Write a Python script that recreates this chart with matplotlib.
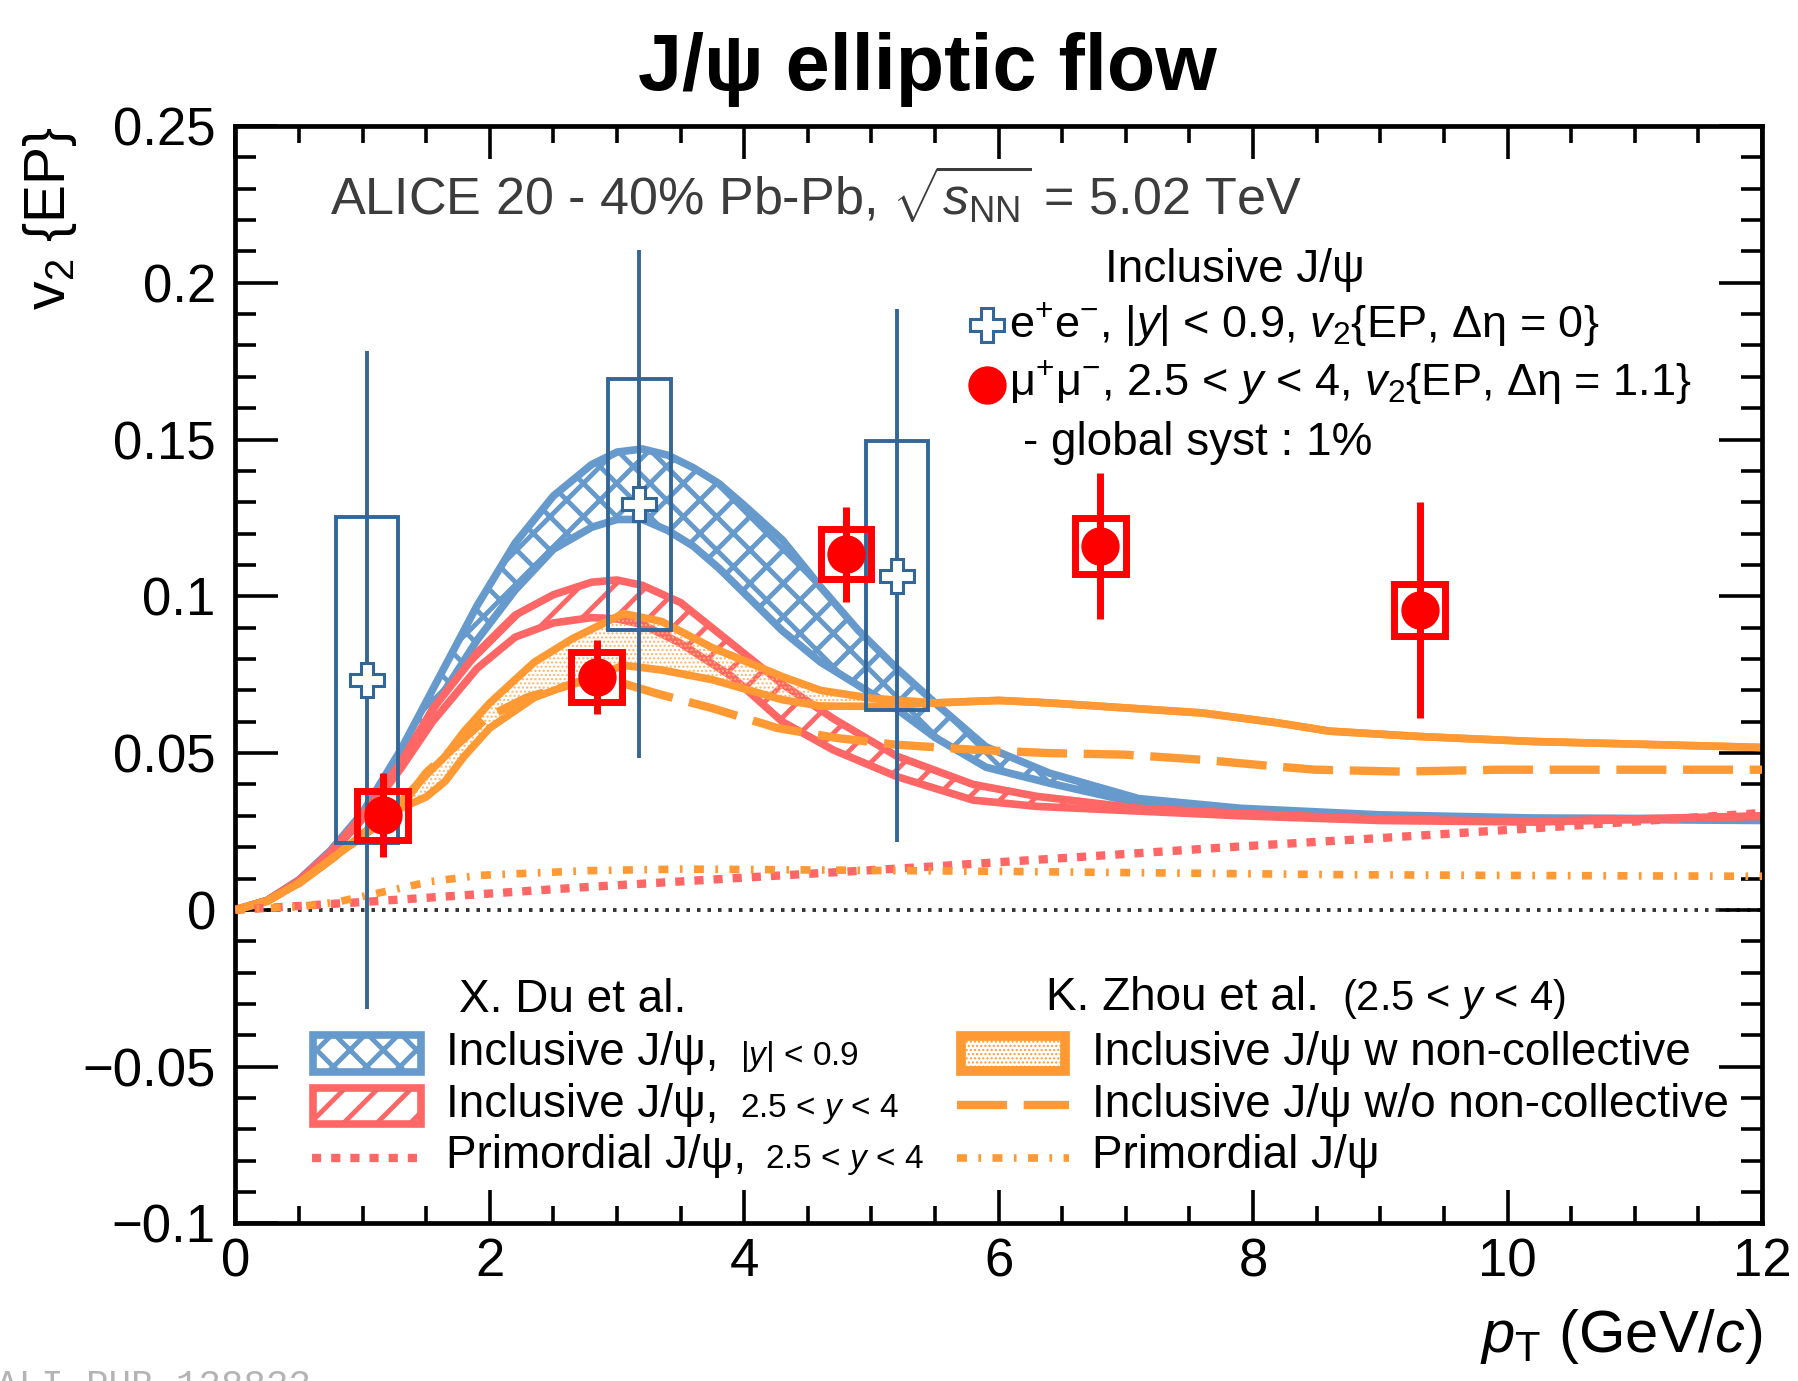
import numpy as np
import matplotlib
matplotlib.use("Agg")
import matplotlib.pyplot as plt
from matplotlib.patches import Rectangle
from matplotlib.lines import Line2D
from matplotlib.ticker import MultipleLocator, FuncFormatter

plt.rcParams['font.family'] = ['Liberation Sans', 'DejaVu Sans']
plt.rcParams['mathtext.fontset'] = 'custom'
plt.rcParams['mathtext.rm'] = 'Liberation Sans'
plt.rcParams['mathtext.it'] = 'Liberation Sans:italic'
plt.rcParams['mathtext.bf'] = 'Liberation Sans:bold'
plt.rcParams['hatch.linewidth'] = 3.0
plt.rcParams['lines.solid_joinstyle'] = 'round'
plt.rcParams['lines.dash_joinstyle'] = 'round'

# ---------------- data ----------------
# ALICE, J/psi -> e+e-, |y| < 0.9
ee_pt = [1.034, 3.176, 5.20]
ee_v2 = [0.0733, 0.1294, 0.1066]
ee_stat = [0.105, 0.081, 0.085]
ee_syst = [0.052, 0.040, 0.043]

# ALICE, J/psi -> mu+mu-, 2.5 < y < 4
mumu_pt = [1.16, 2.84, 4.80, 6.80, 9.31]
mumu_v2 = [0.0301, 0.0743, 0.1134, 0.1161, 0.0956]
mumu_stat = [0.0134, 0.0117, 0.0152, 0.0233, 0.0345]
mumu_syst = [0.0077, 0.0079, 0.0080, 0.0090, 0.0082]

# X. Du et al., inclusive |y| < 0.9 (band)
du_mid_pt = [0, 0.25, 0.5, 0.75, 1.0, 1.3, 1.6, 1.9, 2.2, 2.5, 2.8, 3.0, 3.2, 3.4, 3.6,
             3.8, 4.0, 4.3, 4.6, 4.9, 5.2, 5.5, 5.9, 6.4, 7.1, 7.9, 9.0, 10.2, 12.0]
du_mid_hi = [0, 0.003, 0.0096, 0.019, 0.031, 0.051, 0.074, 0.097, 0.117, 0.132, 0.142, 0.146, 0.147, 0.145, 0.141,
             0.136, 0.129, 0.118, 0.103, 0.089, 0.077, 0.066, 0.052, 0.0436, 0.0355, 0.0324, 0.0303, 0.0293, 0.029]
du_mid_lo = [0, 0.003, 0.0093, 0.018, 0.029, 0.047, 0.067, 0.086, 0.102, 0.115, 0.122, 0.1245, 0.1245, 0.121, 0.116,
             0.109, 0.101, 0.089, 0.079, 0.0715, 0.064, 0.055, 0.0455, 0.0404, 0.034, 0.0318, 0.030, 0.029, 0.0285]

# X. Du et al., inclusive 2.5 < y < 4 (band)
du_fwd_pt = [0, 0.25, 0.5, 0.75, 1.0, 1.3, 1.55, 1.9, 2.2, 2.5, 2.8, 3.0, 3.2, 3.5, 3.9,
             4.3, 4.7, 5.2, 5.8, 6.3, 7.1, 7.9, 9.0, 10.2, 12.0]
du_fwd_hi = [0, 0.003, 0.0094, 0.0185, 0.030, 0.047, 0.064, 0.082, 0.094, 0.1005, 0.1045, 0.1052, 0.1035, 0.098, 0.085,
             0.072, 0.061, 0.049, 0.040, 0.0362, 0.0324, 0.0308, 0.0289, 0.0282, 0.030]
du_fwd_lo = [0, 0.003, 0.0092, 0.018, 0.029, 0.045, 0.060, 0.077, 0.087, 0.0915, 0.0932, 0.0928, 0.091, 0.085, 0.0745,
             0.060, 0.051, 0.0425, 0.035, 0.033, 0.0315, 0.030, 0.0285, 0.028, 0.0298]

# X. Du et al., primordial 2.5 < y < 4
du_prim_pt = [0, 1.08, 2.77, 4.3, 5.47, 6.69, 7.89, 9.0, 10.2, 12.0]
du_prim_v2 = [0, 0.0027, 0.0073, 0.011, 0.0138, 0.017, 0.0202, 0.0229, 0.026, 0.0309]

# K. Zhou et al., with non-collective contribution (band)
zhou_w_pt = [0, 0.25, 0.5, 0.75, 0.95, 1.3, 1.5, 1.65, 1.8, 2.0, 2.35, 2.65, 2.8, 3.05, 3.35, 3.75,
             4.3, 4.6, 5.0, 5.5, 6.0, 6.4, 7.0, 7.6, 8.2, 8.6, 9.3, 10.2, 12.0]
zhou_w_hi = [0, 0.0028, 0.0085, 0.016, 0.0225, 0.0346, 0.043, 0.049, 0.057, 0.066, 0.079, 0.0865, 0.0895, 0.0945, 0.092, 0.0836,
             0.0744, 0.070, 0.0675, 0.066, 0.0668, 0.066, 0.0644, 0.0628, 0.0596, 0.057, 0.0553, 0.0537, 0.0518]
zhou_w_lo = [0, 0.0028, 0.0085, 0.016, 0.022, 0.0324, 0.036, 0.041, 0.049, 0.058, 0.0677, 0.0722, 0.074, 0.078, 0.0765, 0.0734,
             0.067, 0.065, 0.0649, 0.066, 0.0668, 0.066, 0.0644, 0.0628, 0.0596, 0.057, 0.0553, 0.0537, 0.0518]

# K. Zhou et al., without non-collective contribution
zhou_wo_pt = [0, 0.25, 0.5, 0.75, 0.95, 1.3, 1.5, 1.98, 2.29, 2.77, 3.05, 3.33, 3.75, 4.26, 4.73,
              5.19, 5.79, 6.39, 6.99, 7.59, 8.19, 8.49, 9.16, 9.94, 12.0]
zhou_wo_v2 = [0, 0.0028, 0.0085, 0.016, 0.022, 0.033, 0.0437, 0.0614, 0.0677, 0.0734, 0.0722, 0.0688, 0.0643, 0.058, 0.0548,
              0.0527, 0.0511, 0.050, 0.0495, 0.0479, 0.0457, 0.0447, 0.0441, 0.0447, 0.0447]

# K. Zhou et al., primordial
zhou_prim_pt = [0, 0.5, 0.8, 1.14, 1.53, 1.92, 2.77, 3.5, 4.3, 6.2, 8.77, 10.5, 12.0]
zhou_prim_v2 = [0, 0.001, 0.0025, 0.0055, 0.009, 0.011, 0.0125, 0.013, 0.0128, 0.0122, 0.0112, 0.0109, 0.0107]

# ---------------- style ----------------
c_blue = '#6699cc'
c_blue_dk = '#336699'
c_red = '#ff6666'
c_orange = '#ff9933'
c_data = '#ff0000'

W, H = 1799, 1381


def fx(px):
    return px / W


def fy(py):
    return 1 - py / H


def hatch_lw(artist, lw):
    if hasattr(artist, 'set_hatch_linewidth'):
        artist.set_hatch_linewidth(lw)


fig = plt.figure(figsize=(W / 100, H / 100), dpi=100)
ax = fig.add_axes([fx(235.3), fy(1223.4), fx(1762) - fx(235.3), fy(126) - fy(1223.4)])
ax.set_xlim(0, 12)
ax.set_ylim(-0.1, 0.25)

# bands
b = ax.fill_between(du_mid_pt, du_mid_lo, du_mid_hi, facecolor='none', edgecolor=c_blue,
                    hatch='x', linewidth=0, zorder=2)
hatch_lw(b, 3.5)
ax.plot(du_mid_pt, du_mid_hi, color=c_blue, lw=5.5, zorder=2.1)
ax.plot(du_mid_pt, du_mid_lo, color=c_blue, lw=5.5, zorder=2.1)

r = ax.fill_between(du_fwd_pt, du_fwd_lo, du_fwd_hi, facecolor='none', edgecolor=c_red,
                    hatch='/', linewidth=0, zorder=2.2)
hatch_lw(r, 3.5)
ax.plot(du_fwd_pt, du_fwd_hi, color=c_red, lw=5.5, zorder=2.3)
ax.plot(du_fwd_pt, du_fwd_lo, color=c_red, lw=5.5, zorder=2.3)

o = ax.fill_between(zhou_w_pt, zhou_w_lo, zhou_w_hi, facecolor='none', edgecolor='#ffb366',
                    hatch='....', linewidth=0, zorder=2.4)
hatch_lw(o, 1.0)
ax.plot(zhou_w_pt, zhou_w_hi, color=c_orange, lw=5.5, zorder=2.5)
ax.plot(zhou_w_pt, zhou_w_lo, color=c_orange, lw=5.5, zorder=2.5)

ax.plot(zhou_wo_pt, zhou_wo_v2, color=c_orange, lw=6, dashes=(6.0, 2.0), zorder=2.6)
ax.plot(du_prim_pt, du_prim_v2, color=c_red, lw=6, dashes=(1.1, 1.2), zorder=2.6)
ax.plot(zhou_prim_pt, zhou_prim_v2, color=c_orange, lw=5.5, dashes=(1.3, 1.5, 0.35, 1.5), zorder=2.6)

ax.axhline(0, color='#333333', lw=2.8, dashes=(0.9, 1.8), zorder=1.5)

# e+e- points
for x, y, s in zip(ee_pt, ee_v2, ee_syst):
    ax.add_patch(Rectangle((x - 0.245, y - s), 0.49, 2 * s, facecolor='none',
                           edgecolor=c_blue_dk, lw=2.8, zorder=4))
ax.vlines(ee_pt, np.array(ee_v2) - np.array(ee_stat), np.array(ee_v2) + np.array(ee_stat),
          color=c_blue_dk, lw=2.8, zorder=4)
ax.plot(ee_pt, ee_v2, ls='none', marker='P', ms=25, mfc='white', mec=c_blue_dk, mew=2.2, zorder=5)

# mu+mu- points
for x, y, s in zip(mumu_pt, mumu_v2, mumu_syst):
    ax.add_patch(Rectangle((x - 0.2, y - s), 0.4, 2 * s, facecolor='none',
                           edgecolor=c_data, lw=5, zorder=6))
ax.vlines(mumu_pt, np.array(mumu_v2) - np.array(mumu_stat), np.array(mumu_v2) + np.array(mumu_stat),
          color=c_data, lw=5, zorder=6)
ax.plot(mumu_pt, mumu_v2, ls='none', marker='o', ms=26.6, mfc=c_data, mec=c_data, zorder=7)

# axes
for sp in ax.spines.values():
    sp.set_linewidth(3.4)
ax.xaxis.set_major_locator(MultipleLocator(2))
ax.xaxis.set_minor_locator(MultipleLocator(0.5))
ax.yaxis.set_major_locator(MultipleLocator(0.05))
ax.yaxis.set_minor_locator(MultipleLocator(0.01))
ax.yaxis.set_major_formatter(FuncFormatter(lambda v, _: ('%g' % round(v, 4)).replace('-', '\u2212')))
ax.tick_params(which='both', direction='in', top=True, right=True, width=2.6, labelsize=38)
ax.tick_params(axis='y', which='major', length=31, pad=14)
ax.tick_params(axis='y', which='minor', length=15)
ax.tick_params(axis='x', which='major', length=24, pad=10)
ax.tick_params(axis='x', which='minor', length=12)

# titles and labels
fig.text(fx(927), fy(90), 'J/ψ elliptic flow', ha='center', va='baseline', fontsize=57, fontweight='bold')
fig.text(fx(1762), fy(1352), r'$p_{\mathrm{T}}$ (GeV/$c$)', ha='right', va='baseline', fontsize=43)
fig.text(fx(50), fy(126), r'v$_{2}$ {EP}', ha='center', va='top', rotation=90, fontsize=41)

fig.text(fx(330), fy(215), r'ALICE 20 - 40% Pb-Pb, $\sqrt{s_{\mathrm{NN}}}$ = 5.02 TeV',
         ha='left', va='baseline', fontsize=37.5, color='#3c3c3c')

# data legend
fig.text(fx(1235), fy(282), 'Inclusive J/ψ', ha='center', va='baseline', fontsize=33)
fig.text(fx(1009), fy(337), r'e$^{+}$e$^{-}$, |$y$| < 0.9, $v_{2}${EP, Δη = 0}',
         ha='left', va='baseline', fontsize=32.5)
fig.text(fx(1009), fy(395), r'μ$^{+}$μ$^{-}$, 2.5 < $y$ < 4, $v_{2}${EP, Δη = 1.1}',
         ha='left', va='baseline', fontsize=32.5)
fig.text(fx(1023), fy(455), '- global syst : 1%', ha='left', va='baseline', fontsize=33)
fig.add_artist(Line2D([fx(987)], [fy(325)], transform=fig.transFigure, ls='none', marker='P',
                      ms=25, mfc='white', mec=c_blue_dk, mew=2.2))
fig.add_artist(Line2D([fx(987)], [fy(385)], transform=fig.transFigure, ls='none', marker='o',
                      ms=26.6, mfc=c_data, mec=c_data))

# model legends
fs_leg = 33
fs_small = 24
fig.text(fx(459), fy(1012), 'X. Du et al.', ha='left', va='baseline', fontsize=fs_leg)
fig.text(fx(1046), fy(1010), 'K. Zhou et al.', ha='left', va='baseline', fontsize=fs_leg)
fig.text(fx(1342), fy(1010), r'(2.5 < $y$ < 4)', ha='left', va='baseline', fontsize=30)

rows = [1065, 1117, 1168]
du_labels = ['Inclusive J/ψ,', 'Inclusive J/ψ,', 'Primordial J/ψ,']
du_small = [r'|$y$| < 0.9', r'2.5 < $y$ < 4', r'2.5 < $y$ < 4']
du_small_x = [740, 740, 765]
for yb, lab, sm, sx in zip(rows, du_labels, du_small, du_small_x):
    fig.text(fx(446), fy(yb), lab, ha='left', va='baseline', fontsize=fs_leg)
    fig.text(fx(sx), fy(yb), sm, ha='left', va='baseline', fontsize=fs_small)

zhou_labels = ['Inclusive J/ψ w non-collective', 'Inclusive J/ψ w/o non-collective', 'Primordial J/ψ']
for yb, lab in zip(rows, zhou_labels):
    fig.text(fx(1092), fy(yb), lab, ha='left', va='baseline', fontsize=fs_leg)

# legend swatches
sw = Rectangle((fx(313), fy(1072)), fx(421) - fx(313), fy(1035) - fy(1072), transform=fig.transFigure,
               facecolor='white', edgecolor=c_blue, hatch='x', lw=5.5)
hatch_lw(sw, 3.5)
fig.add_artist(sw)
sw = Rectangle((fx(313), fy(1124)), fx(421) - fx(313), fy(1088) - fy(1124), transform=fig.transFigure,
               facecolor='white', edgecolor=c_red, hatch='/', lw=5.5)
hatch_lw(sw, 3.5)
fig.add_artist(sw)
fig.add_artist(Line2D([fx(312), fx(420)], [fy(1158), fy(1158)], transform=fig.transFigure,
                      color=c_red, lw=6, dashes=(1.1, 1.2)))

sw = Rectangle((fx(961), fy(1071)), fx(1065) - fx(961), fy(1036) - fy(1071), transform=fig.transFigure,
               facecolor='white', edgecolor=c_orange, hatch='....', lw=7)
hatch_lw(sw, 1.0)
fig.add_artist(sw)
fig.add_artist(Line2D([fx(957), fx(1069)], [fy(1105), fy(1105)], transform=fig.transFigure,
                      color=c_orange, lw=6, dashes=(6.0, 2.0)))
fig.add_artist(Line2D([fx(957), fx(1069)], [fy(1158), fy(1158)], transform=fig.transFigure,
                      color=c_orange, lw=5.5, dashes=(1.3, 1.5, 0.35, 1.5)))

fig.text(fx(-4), fy(1397), 'ALI-PUB-138833', family='Liberation Mono', color='#b4b4b4',
         fontsize=27, ha='left', va='baseline')

fig.savefig('out.png', dpi=100)
